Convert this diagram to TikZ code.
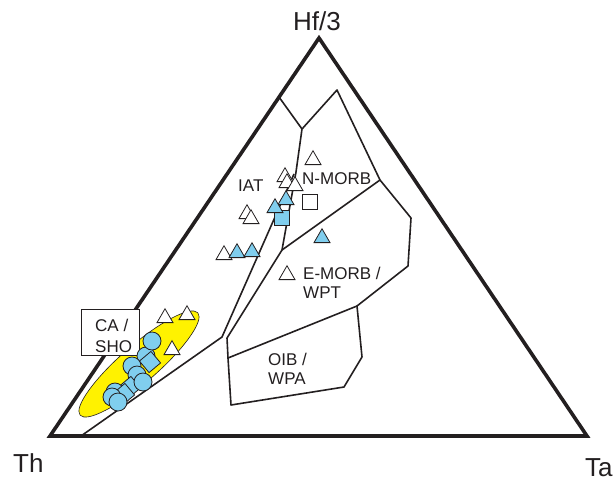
\documentclass[tikz,border=0pt]{standalone}
\usepackage{fontspec}
\setmainfont{Liberation Sans}
\usetikzlibrary{shapes.geometric}
\definecolor{sky}{RGB}{128,206,238}
\definecolor{ylw}{RGB}{255,242,0}
\definecolor{ink}{RGB}{35,31,32}
\begin{document}
\begin{tikzpicture}[x=1pt,y=-1pt,
  inner/.style={line width=1.6pt, line join=round, draw=ink},
  otri/.style={regular polygon, regular polygon sides=3, draw=ink, fill=white, line width=0.8pt, minimum size=18.5pt, inner sep=0pt},
  btri/.style={otri, fill=sky},
  osq/.style={rectangle, draw=ink, fill=white, line width=0.8pt, minimum size=15pt, inner sep=0pt},
  bsq/.style={osq, fill=sky},
  rsq/.style={bsq, rotate=40},
  bcirc/.style={circle, draw=ink, fill=sky, line width=0.8pt, minimum size=18pt, inner sep=0pt},
  lab/.style={anchor=base west, inner sep=0pt, font=\fontsize{17}{20}\selectfont, text=ink},
  big/.style={anchor=base west, inner sep=0pt, font=\fontsize{26}{30}\selectfont, text=ink}]
\useasboundingbox (0,0) rectangle (613,480);
% yellow field
\node[ellipse, draw=ink, fill=ylw, line width=0.6pt, minimum width=156pt, minimum height=37pt, inner sep=0pt, rotate=41] (ell) at (139,364) {};
% field boundaries
\draw[inner] (279,97) -- (302,129) -- (337,90) -- (380,180) -- (411,218) -- (408,266) -- (357,306) -- (362,357) -- (344,387) -- (231,405) -- (228,358) -- (227,338) -- (282,250) -- (296,172) -- (302,129);
\draw[inner] (282,250) -- (380,180);
\draw[inner] (228,358) -- (357,306);
\draw[inner] (294,174) -- (222,337) -- (81,436);
% main triangle
\draw[line width=3.6pt, line join=miter, draw=ink] (50,436) -- (587,436) -- (319,38) -- cycle;
% labels
\node[big] (hf) at (293,30) {Hf/3};
\node[big] (th) at (13,472) {Th};
\node[big] (ta) at (585,476) {Ta};
\node[lab] (iat) at (238,191) {IAT};
\node[lab] (nmorb) at (302,184) {N-MORB};
\node[lab] (emorb) at (303,279) {E-MORB /};
\node[lab] (wpt) at (303,298) {WPT};
\node[lab] (oib) at (268,365) {OIB /};
\node[lab] (wpa) at (268,384) {WPA};
\node[draw=ink, fill=white, line width=1pt, minimum width=57.6pt, minimum height=45.7pt, inner sep=0pt] (box) at (110.5,332.8) {};
\node[lab] (ca) at (95,331) {CA /};
\node[lab] (sho) at (95,352) {SHO};
% open triangles
\node[otri] (t1) at (165,318) {};
\node[otri] (t2) at (187,315) {};
\node[otri] (t3) at (172,350) {};
\node[otri] (t4) at (313,160) {};
\node[otri] (t5) at (285,177) {};
\node[otri] (t6) at (287,183) {};
\node[otri] (t7) at (295,186) {};
\node[otri] (t8) at (247,214) {};
\node[otri] (t9) at (251,219) {};
\node[otri] (t10) at (224,255) {};
\node[otri] (t11) at (287,275) {};
% squares
\node[osq] (q1) at (310,202) {};
\node[bsq] (q2) at (282,218) {};
% blue triangles
\node[btri] (b1) at (286,200) {};
\node[btri] (b2) at (275,208) {};
\node[btri] (b3) at (322,238) {};
\node[btri] (b4) at (237,253) {};
\node[btri] (b5) at (252,252) {};
% blue cluster
\node[bcirc] (c1) at (146,356) {};
\node[rsq] (s1) at (150,362) {};
\node[bcirc] (c0) at (152,341) {};
\node[bcirc] (c2) at (132,366) {};
\node[bcirc] (c3) at (137,375) {};
\node[rsq] (s2) at (130,387) {};
\node[bcirc] (c4) at (143,382) {};
\node[bcirc] (c5) at (115,392) {};
\node[rsq] (s3) at (124,394) {};
\node[bcirc] (c6) at (112,397) {};
\node[bcirc] (c7) at (118,402) {};
\end{tikzpicture}
\end{document}
